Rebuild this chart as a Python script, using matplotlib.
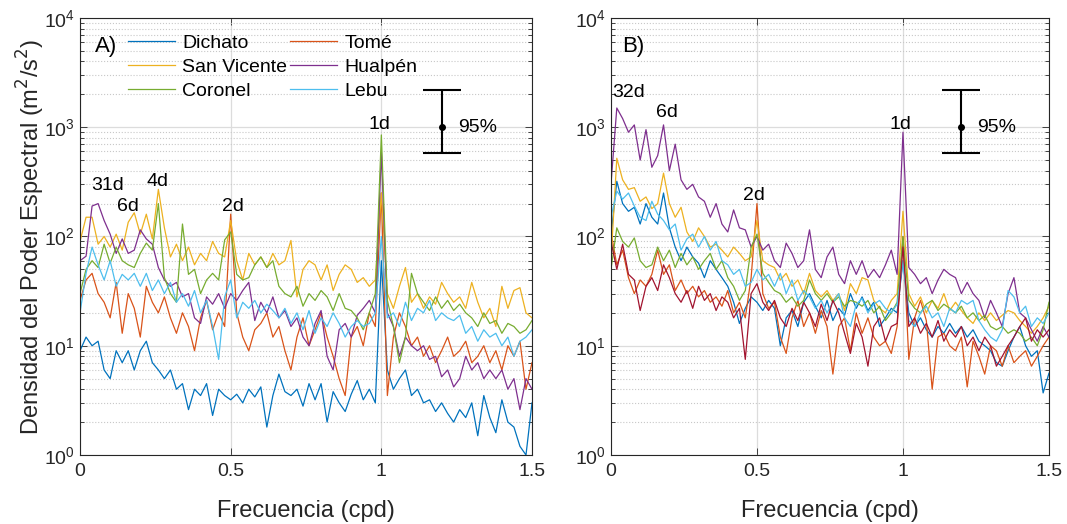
import numpy as np
import matplotlib.pyplot as plt
from matplotlib.ticker import LogLocator, NullFormatter

plt.rcParams["font.family"] = ["Liberation Sans", "DejaVu Sans"]

# frequency grid (cpd), one value every 0.02 cpd
FREQ = np.round(np.arange(76) * 0.02, 2)

# ---- panel A spectra (m2/s2) ----
A_DICHATO = [
    9, 12, 10, 11, 6, 5, 9, 7, 9, 6, 9, 11, 7, 6, 5, 6, 4, 4.5, 2.6, 4,
    3.5, 4.5, 2.3, 4, 3.5, 3.2, 3.6, 3, 4, 3.4, 4.2, 1.8, 3.5, 5.5, 3.8, 3.5, 4, 2.8, 4.5, 3.2,
    4.5, 2, 3.8, 3, 2.5, 3.6, 4.8, 3.2, 4, 3, 60, 6, 4, 5, 6, 3.5, 4, 3, 3.2, 2.5,
    3, 2.4, 2, 2.6, 2.2, 3, 1.5, 3.5, 2.2, 1.6, 3.2, 2, 1.8, 1.2, 1.0, 3,
]
A_TOME = [
    26, 40, 46, 30, 25, 18, 38, 13, 30, 22, 12, 35, 25, 20, 28, 18, 13, 20, 15, 9,
    18, 26, 14, 20, 15, 160, 20, 12, 9, 14, 16, 20, 12, 15, 9, 6, 12, 18, 10, 14,
    20, 12, 8, 5, 3.5, 12, 15, 10, 20, 15, 250, 3.5, 12, 20, 15, 10, 12, 8, 10, 7,
    9, 12, 8, 9, 11, 7, 8, 10, 7, 9, 6, 10, 8, 11, 4, 7,
]
A_SANVICENTE = [
    90, 150, 150, 85, 100, 80, 105, 75, 135, 165, 105, 160, 95, 270, 120, 65, 85, 60, 80, 55,
    70, 60, 90, 70, 65, 140, 60, 40, 70, 55, 65, 52, 70, 55, 60, 92, 28, 50, 60, 55,
    40, 55, 32, 45, 55, 50, 38, 42, 35, 40, 250, 30, 22, 35, 52, 25, 30, 22, 28, 24,
    38, 30, 25, 28, 22, 38, 25, 18, 22, 15, 35, 22, 32, 34, 20, 18,
]
A_HUALPEN = [
    60, 66, 190, 200, 140, 105, 70, 95, 70, 75, 115, 95, 85, 52, 40, 35, 38, 28, 30, 18,
    16, 28, 24, 30, 22, 30, 26, 32, 38, 17, 25, 20, 28, 18, 21, 15, 18, 12, 10, 16,
    21, 8, 6, 14, 16, 12, 19, 22, 26, 20, 600, 20, 15, 8, 12, 10, 9, 10, 7.5, 8,
    5.2, 6, 4.2, 5, 8, 6, 7, 5, 6, 5, 6, 4, 5, 2.6, 5, 4,
]
A_CORONEL = [
    30, 50, 60, 52, 85, 57, 80, 60, 55, 52, 70, 87, 75, 200, 42, 30, 25, 130, 45, 50,
    30, 40, 46, 40, 93, 110, 45, 40, 42, 55, 65, 52, 60, 35, 30, 28, 35, 23, 30, 26,
    32, 28, 21, 30, 22, 21, 18, 14, 20, 30, 850, 26, 15, 7, 12, 46, 30, 25, 21, 28,
    22, 26, 21, 24, 20, 18, 15, 20, 16, 17, 13, 16, 15, 13, 14, 17,
]
A_LEBU = [
    20, 46, 80, 55, 40, 60, 35, 45, 40, 46, 35, 46, 32, 40, 30, 38, 25, 30, 23, 32,
    20, 26, 15, 7.5, 28, 40, 18, 25, 22, 26, 20, 24, 21, 18, 22, 16, 20, 14, 21, 13,
    18, 15, 20, 16, 12, 15, 17, 15, 16, 20, 100, 18, 20, 15, 25, 17, 22, 20, 26, 17,
    20, 18, 17, 19, 13, 15, 11, 14, 12, 13, 10, 12, 8, 11, 12, 14,
]

# ---- panel B spectra (m2/s2) ----
B_DICHATO = [
    100, 320, 200, 170, 185, 130, 200, 150, 130, 250, 120, 80, 60, 80, 65, 57, 42, 60, 50, 42,
    35, 25, 16, 22, 28, 25, 21, 26, 22, 10, 18, 21, 15, 25, 30, 23, 18, 26, 17, 22,
    19, 30, 22, 28, 21, 25, 15, 18, 22, 20, 60, 20, 15, 18, 14, 12, 15, 13, 16, 13,
    15, 12, 14, 11, 10, 9, 7, 6.5, 9, 12, 15, 10, 8, 9, 3.7, 5.6,
]
B_TOME = [
    110, 55, 75, 42, 30, 40, 35, 45, 75, 45, 55, 32, 40, 30, 35, 28, 32, 25, 28, 23,
    32, 20, 25, 18, 42, 200, 30, 22, 25, 12, 8.5, 18, 26, 15, 20, 13, 21, 15, 5.5, 15,
    18, 9, 20, 13, 18, 12, 10, 11, 8.5, 15, 100, 7.5, 18, 26, 17, 4, 12, 13, 10, 9,
    12, 4.2, 11, 8, 5.5, 10, 9, 6.5, 10, 7, 8, 9, 6.5, 8, 10, 12,
]
B_SANVICENTE = [
    60, 520, 330, 270, 280, 210, 230, 180, 200, 380, 200, 150, 185, 110, 90, 120, 100, 80, 85, 75,
    65, 80, 70, 60, 65, 140, 60, 55, 52, 40, 46, 35, 40, 30, 46, 32, 28, 32, 26, 30,
    21, 37, 30, 42, 40, 26, 22, 20, 26, 30, 170, 30, 23, 28, 20, 26, 22, 30, 21, 25,
    21, 18, 16, 20, 17, 20, 17, 19, 21, 20, 17, 15, 13, 15, 18, 23,
]
B_HUALPEN = [
    300, 1500, 1200, 900, 1050, 500, 950, 430, 550, 1050, 400, 700, 330, 270, 300, 230, 210, 150, 200, 130,
    110, 175, 120, 115, 80, 100, 75, 85, 60, 52, 87, 70, 52, 60, 115, 50, 42, 65, 80, 45,
    37, 60, 45, 60, 42, 50, 42, 55, 75, 45, 900, 52, 45, 37, 42, 30, 40, 50, 45, 42,
    30, 38, 30, 26, 18, 26, 20, 15, 30, 42, 20, 18, 14, 11, 15, 12,
]
B_CORONEL = [
    50, 120, 90, 80, 97, 60, 52, 55, 80, 60, 75, 52, 70, 55, 65, 50, 60, 70, 50, 60,
    42, 35, 26, 32, 80, 105, 46, 38, 32, 30, 25, 28, 23, 26, 40, 30, 26, 30, 25, 28,
    23, 26, 25, 23, 26, 20, 23, 17, 20, 25, 100, 26, 22, 20, 24, 26, 21, 24, 22, 20,
    23, 18, 20, 17, 19, 15, 14, 15, 13, 14, 13, 11, 12, 10, 14, 25,
]
B_LEBU = [
    150, 260, 220, 250, 190, 150, 140, 210, 160, 140, 115, 130, 75, 95, 105, 80, 100, 75, 90, 60,
    55, 45, 50, 35, 38, 50, 40, 45, 35, 46, 30, 40, 26, 32, 28, 22, 26, 20, 25, 30,
    18, 15, 24, 27, 20, 24, 26, 22, 20, 24, 60, 17, 15, 20, 23, 18, 20, 15, 22, 20,
    26, 24, 26, 17, 14, 12, 11, 14, 32, 28, 20, 23, 15, 18, 16, 20,
]
B_EXTRA = [
    90, 50, 85, 45, 40, 21, 35, 42, 32, 55, 42, 30, 25, 32, 22, 35, 26, 30, 21, 28,
    25, 18, 22, 7.5, 30, 37, 25, 21, 26, 18, 15, 22, 17, 25, 20, 15, 24, 17, 26, 20,
    13, 8.5, 16, 12, 6.5, 15, 18, 11, 15, 16, 80, 15, 18, 13, 16, 12, 17, 11, 14, 12,
    15, 10, 12, 9, 12, 10, 6.5, 8, 10, 12, 15, 18, 11, 14, 12, 14,
]

STATIONS = ["Dichato", "Tomé", "San Vicente", "Hualpén", "Coronel", "Lebu"]
COLORS = {
    "Dichato": "#0072BD",
    "Tomé": "#D95319",
    "San Vicente": "#EDB120",
    "Hualpén": "#7E2F8E",
    "Coronel": "#77AC30",
    "Lebu": "#4DBEEE",
    "extra": "#A2142F",
}

# 95% confidence bar
CI_FREQ = 1.2
CI_CENTER = 1000
CI_LOW = 580
CI_HIGH = 2200

# peak labels: (text, frequency, height)
A_PEAKS = [("31d", 0.09, 290), ("6d", 0.16, 190), ("4d", 0.257, 320), ("2d", 0.507, 190), ("1d", 0.993, 1050)]
B_PEAKS = [("32d", 0.062, 2080), ("6d", 0.19, 1370), ("2d", 0.49, 235), ("1d", 0.99, 1050)]


def style_axes(ax):

    ax.set_yscale("log")
    ax.set_xlim(0, 1.5)
    ax.set_ylim(1, 1e4)

    ax.set_xticks([0, 0.5, 1, 1.5])
    ax.set_xticklabels(["0", "0.5", "1", "1.5"])
    ax.yaxis.set_major_locator(LogLocator(base=10, numticks=10))
    ax.yaxis.set_minor_locator(LogLocator(base=10, subs=np.arange(2, 10), numticks=20))
    ax.yaxis.set_minor_formatter(NullFormatter())

    ax.tick_params(which="both", direction="in", top=True, right=True,
                   labelsize=14, colors="#262626", width=0.6)
    ax.tick_params(which="major", length=5)
    ax.tick_params(which="minor", length=3)
    ax.tick_params(axis="x", which="major", pad=6)

    ax.grid(True, which="major", color="#dcdcdc", linewidth=0.9)
    ax.grid(True, which="minor", axis="y", color="#c8c8c8", linestyle=":", linewidth=0.8)
    ax.set_axisbelow(True)

    for spine in ax.spines.values():
        spine.set_color("#262626")
        spine.set_linewidth(0.8)

    ax.set_xlabel("Frecuencia (cpd)", fontsize=17, color="#262626", labelpad=14)

    ax.errorbar(
        [CI_FREQ],
        [CI_CENTER],
        yerr=[[CI_CENTER - CI_LOW], [CI_HIGH - CI_CENTER]],
        fmt="o",
        color="black",
        markersize=4,
        elinewidth=1.5,
        capsize=14,
        capthick=1.5,
        zorder=5,
    )
    ax.text(CI_FREQ + 0.055, CI_CENTER, "95%", fontsize=14, va="center", ha="left")


fig = plt.figure(figsize=(10.67, 5.24), dpi=100)

ax_a = fig.add_axes([0.075, 0.1317, 0.4236, 0.834])
ax_b = fig.add_axes([0.5726, 0.1317, 0.4105, 0.834])

series_a = [A_DICHATO, A_TOME, A_SANVICENTE, A_HUALPEN, A_CORONEL, A_LEBU]
series_b = [B_DICHATO, B_TOME, B_SANVICENTE, B_HUALPEN, B_CORONEL, B_LEBU]

handles = {}
for name, values in zip(STATIONS, series_a):
    (line,) = ax_a.plot(FREQ, values, color=COLORS[name], linewidth=0.9, label=name)
    handles[name] = line

for name, values in zip(STATIONS, series_b):
    ax_b.plot(FREQ, values, color=COLORS[name], linewidth=0.9)
ax_b.plot(FREQ, B_EXTRA, color=COLORS["extra"], linewidth=0.9)

for ax in (ax_a, ax_b):
    style_axes(ax)

for text, f, h in A_PEAKS:
    ax_a.text(f, h, text, fontsize=14, ha="center", va="center")
for text, f, h in B_PEAKS:
    ax_b.text(f, h, text, fontsize=14, ha="center", va="center")

ax_a.text(0.05, 5500, "A)", fontsize=16, ha="left", va="center")
ax_b.text(0.037, 5500, "B)", fontsize=16, ha="left", va="center")

ax_a.set_ylabel("Densidad del Poder Espectral (m$^2$/s$^2$)", fontsize=17,
                color="#262626", labelpad=-2)

# matplotlib fills legend columns first, MATLAB fills rows
order = ["Dichato", "San Vicente", "Coronel", "Tomé", "Hualpén", "Lebu"]
ax_a.legend(
    [handles[n] for n in order],
    order,
    ncol=2,
    loc="upper left",
    bbox_to_anchor=(0.106, 0.962),
    frameon=False,
    fontsize=14,
    borderpad=0,
    borderaxespad=0,
    handlelength=2.4,
    handletextpad=0.4,
    columnspacing=0.15,
    labelspacing=0.32,
)

fig.savefig("out.png", dpi=100)
